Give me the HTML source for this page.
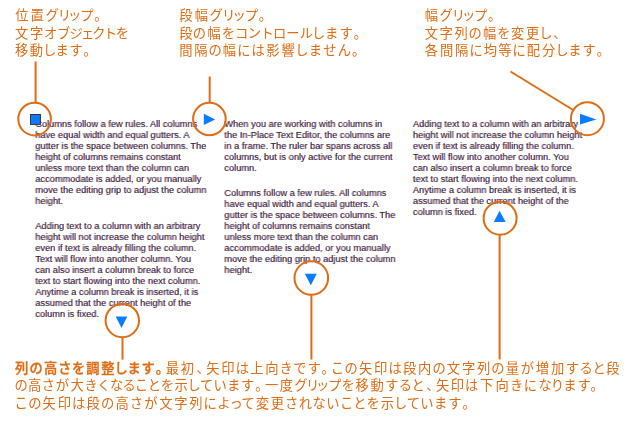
<!DOCTYPE html>
<html lang="ja"><head><meta charset="utf-8"><title>Column grips</title>
<style>
html,body{margin:0;padding:0;background:#fff;}
body{width:638px;height:431px;overflow:hidden;}
svg{display:block;}
.j{font-family:"Liberation Sans","Noto Sans CJK JP",sans-serif;font-size:13.3px;font-weight:400;fill:#DE6C14;}
.b{font-weight:500;stroke:#DE6C14;stroke-width:0.35px;}
.e{font-family:"Liberation Sans",sans-serif;font-size:9.25px;}
</style></head><body>
<svg width="638" height="431" viewBox="0 0 638 431">
<rect width="638" height="431" fill="#fff"/>

<g fill="#ff7716" transform="translate(-0.45 0)"><g id="en">
<text class="e" x="35.2" y="127.2">Columns follow a few rules. All columns</text>
<text class="e" x="35.2" y="138.2">have equal width and equal gutters. A</text>
<text class="e" x="35.2" y="149.1">gutter is the space between columns. The</text>
<text class="e" x="35.2" y="160.1">height of columns remains constant</text>
<text class="e" x="35.2" y="171.0">unless more text than the column can</text>
<text class="e" x="35.2" y="181.9">accommodate is added, or you manually</text>
<text class="e" x="35.2" y="192.9">move the editing grip to adjust the column</text>
<text class="e" x="35.2" y="203.8">height.</text>
<text class="e" x="35.2" y="229.2">Adding text to a column with an arbitrary</text>
<text class="e" x="35.2" y="240.1">height will not increase the column height</text>
<text class="e" x="35.2" y="251.1">even if text is already filling the column.</text>
<text class="e" x="35.2" y="262.0">Text will flow into another column. You</text>
<text class="e" x="35.2" y="273.0">can also insert a column break to force</text>
<text class="e" x="35.2" y="283.9">text to start flowing into the next column.</text>
<text class="e" x="35.2" y="294.9">Anytime a column break is inserted, it is</text>
<text class="e" x="35.2" y="305.8">assumed that the current height of the</text>
<text class="e" x="35.2" y="316.8">column is fixed.</text>
<text class="e" x="224.3" y="127.2">When you are working with columns in</text>
<text class="e" x="224.3" y="138.2">the In-Place Text Editor, the columns are</text>
<text class="e" x="224.3" y="149.1">in a frame. The ruler bar spans across all</text>
<text class="e" x="224.3" y="160.1">columns, but is only active for the current</text>
<text class="e" x="224.3" y="171.0">column.</text>
<text class="e" x="224.3" y="195.9">Columns follow a few rules. All columns</text>
<text class="e" x="224.3" y="206.8">have equal width and equal gutters. A</text>
<text class="e" x="224.3" y="217.8">gutter is the space between columns. The</text>
<text class="e" x="224.3" y="228.8">height of columns remains constant</text>
<text class="e" x="224.3" y="239.7">unless more text than the column can</text>
<text class="e" x="224.3" y="250.7">accommodate is added, or you manually</text>
<text class="e" x="224.3" y="261.6">move the editing grip to adjust the column</text>
<text class="e" x="224.3" y="272.6">height.</text>
<text class="e" x="412.9" y="127.4">Adding text to a column with an arbitrary</text>
<text class="e" x="412.9" y="138.3">height will not increase the column height</text>
<text class="e" x="412.9" y="149.3">even if text is already filling the column.</text>
<text class="e" x="412.9" y="160.2">Text will flow into another column. You</text>
<text class="e" x="412.9" y="171.2">can also insert a column break to force</text>
<text class="e" x="412.9" y="182.2">text to start flowing into the next column.</text>
<text class="e" x="412.9" y="193.1">Anytime a column break is inserted, it is</text>
<text class="e" x="412.9" y="204.1">assumed that the current height of the</text>
<text class="e" x="412.9" y="215.0">column is fixed.</text>
</g></g>
<use href="#en" x="0.45" fill="#1458ff" style="mix-blend-mode:multiply"/>

<g fill="none" stroke="#DE6C14" stroke-width="2">
<line x1="35.6" y1="61.5" x2="35.6" y2="102.5"/>
<line x1="209.7" y1="76.5" x2="209.7" y2="102.5"/>
<line x1="510.5" y1="71.5" x2="574" y2="110.5"/>
<line x1="122.5" y1="337" x2="122.5" y2="359.6"/>
<line x1="311.4" y1="295" x2="311.4" y2="359.5"/>
<line x1="499.6" y1="235" x2="499.6" y2="359.5"/>
<circle cx="34.6" cy="119.1" r="16.3"/>
<circle cx="209.4" cy="119" r="16.3"/>
<circle cx="587.4" cy="118.7" r="16.5"/>
<circle cx="122.3" cy="320.6" r="16.7"/>
<circle cx="311.3" cy="278" r="16.8"/>
<circle cx="500.1" cy="218.2" r="16.5"/>
</g>
<rect x="30.5" y="114.5" width="9.9" height="9.9" fill="#0A7CFF" stroke="#3a3230" stroke-width="1"/>
<g fill="#0A7CFF">
<polygon points="203.8,113.8 203.8,125 215.2,119.4"/>
<polygon points="580,113.8 580,124.6 596.3,119.5"/>
<polygon points="115.7,316.6 127.3,316.6 121.5,327.9"/>
<polygon points="304.8,273.8 316.8,273.8 310.8,285.3"/>
<polygon points="493.8,222.1 505.6,222.1 499.6,210.8"/>
</g>

<g>
<text class="j" y="20.1" x="15.2 30.6 45.4 57.7 68.0 80.3 94.3">位置グリップ。</text>
<text class="j" y="37.7" x="15.0 29.9 44.0 57.0 69.6 80.9 92.2 103.8 115.7">文字オブジェクトを</text>
<text class="j" y="55.3" x="15.0 29.8 42.9 55.5 69.5 83.6">移動します。</text>
<text class="j" y="20.1" x="179.3 194.7 209.6 222.0 232.4 244.7 258.7">段幅グリップ。</text>
<text class="j" y="37.7" x="179.2 192.8 207.4 221.7 235.0 247.8 260.6 273.0 286.3 299.7 312.1 325.1 339.5 353.8">段の幅をコントロールします。</text>
<text class="j" y="55.3" x="179.3 194.3 208.5 222.7 237.3 251.4 266.2 281.6 295.3 308.8 323.3 337.8 352.1">間隔の幅には影響しません。</text>
<text class="j" y="20.1" x="424.8 439.5 451.7 461.9 473.9 487.9">幅グリップ。</text>
<text class="j" y="37.7" x="424.7 439.5 454.4 468.6 482.9 497.0 511.1 525.9 539.2 553.2">文字列の幅を変更し、</text>
<text class="j" y="55.3" x="424.8 439.9 455.0 469.4 483.8 498.5 512.5 526.8 541.9 555.4 568.3 582.5 596.8">各間隔に均等に配分します。</text>
<text class="j b" y="372.6" x="15.1 29.5 43.9 58.3 71.9 86.2 101.2 114.6 127.4 141.6 155.8">列の高さを調整します。</text>
<text class="j" y="372.6" x="165.7 180.7 196.5 206.3 221.3 235.8 250.2 265.2 279.5 293.2 307.4 321.6 330.8 344.6 359.0 374.1 388.5 402.9 418.0 432.4 446.8 461.9 476.9 491.3 505.8 520.8 535.8 550.9 565.7 579.4 592.4 606.3">最初、矢印は上向きです。この矢印は段内の文字列の量が増加すると段</text>
<text class="j" y="390.3" x="14.4 28.1 41.8 55.8 70.6 84.6 97.2 110.0 122.4 134.7 147.8 160.7 174.4 187.6 200.1 213.5 227.0 241.1 255.3 265.0 279.8 294.2 306.1 316.1 327.9 341.5 355.6 370.5 385.2 398.8 411.6 426.3 435.9 450.8 465.1 480.0 495.6 510.1 523.8 538.4 550.8 563.3 577.4 590.4">の高さが大きくなることを示しています。一度グリップを移動すると、矢印は下向きになります。</text>
<text class="j" y="407.9" x="14.4 28.2 42.6 57.7 72.1 86.6 101.0 115.4 129.8 144.2 159.2 174.3 189.3 203.6 217.2 229.4 241.4 255.7 270.7 285.1 298.8 312.6 326.3 339.9 353.2 366.4 380.7 394.1 406.8 420.3 434.0 448.2 462.5">この矢印は段の高さが文字列によって変更されないことを示しています。</text>
</g>
</svg>
</body></html>
